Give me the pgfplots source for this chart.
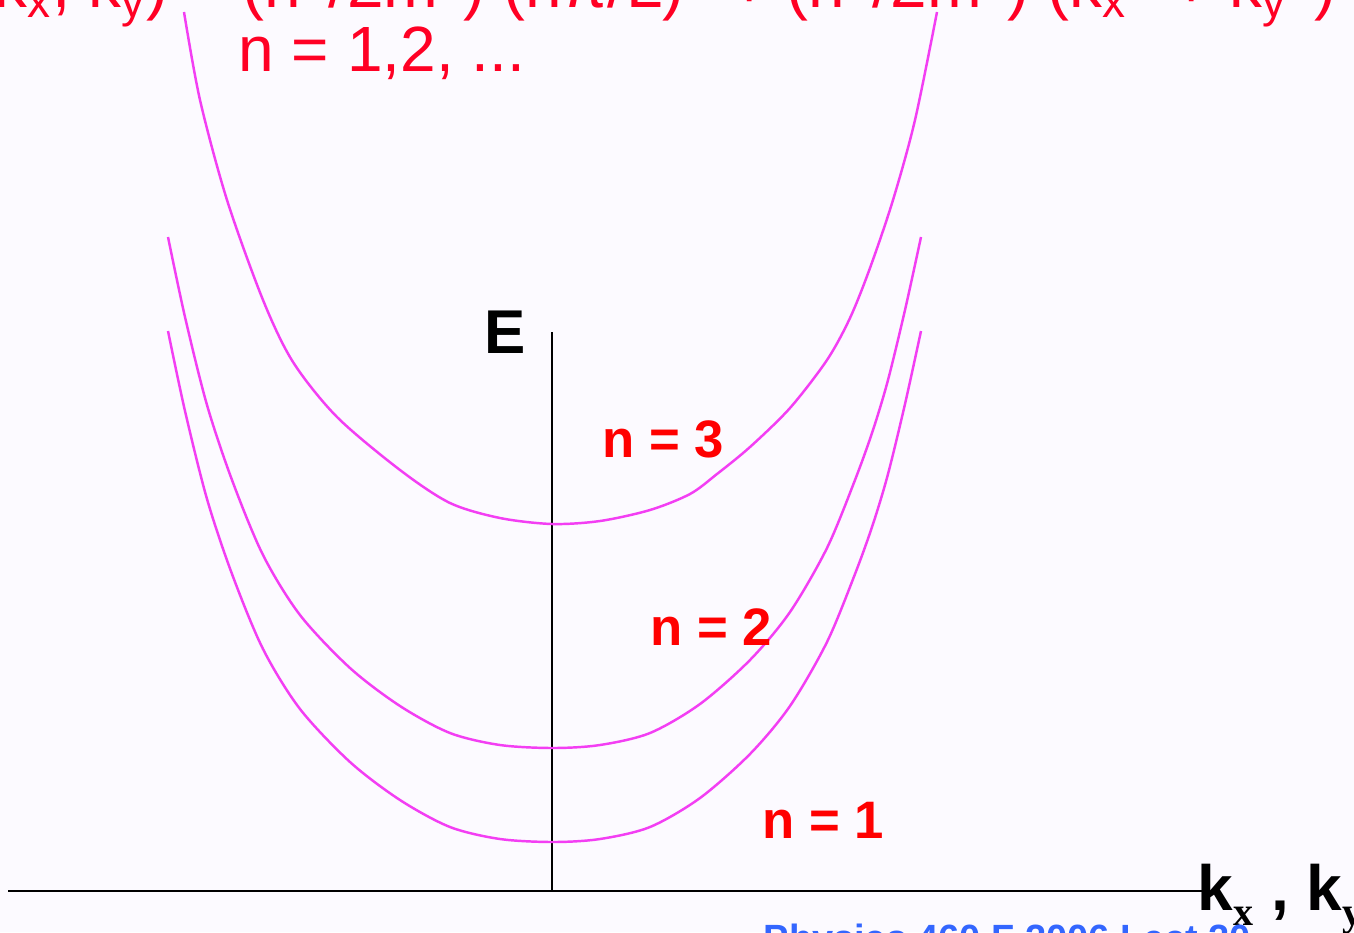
\documentclass[border=0pt]{standalone}
\usepackage{pgfplots}
\pgfplotsset{compat=1.18}
\usepackage{fontspec}
\setmainfont{Liberation Sans}
\newfontfamily\serifb{Liberation Serif}
\definecolor{bgcol}{RGB}{252,250,255}
\definecolor{curvecol}{RGB}{243,62,243}
\definecolor{toptext}{RGB}{255,0,36}
\definecolor{lblred}{RGB}{255,0,0}
\definecolor{footblue}{RGB}{51,102,255}
\begin{document}
\begin{tikzpicture}
\useasboundingbox (0,0) rectangle (13.54cm,9.32cm);
\clip (0,0) rectangle (13.54cm,9.32cm);
\fill[bgcol] (0,0) rectangle (13.54cm,9.32cm);
\begin{axis}[at={(0,0)}, anchor=south west, width=13.54cm, height=9.32cm,
  scale only axis, xmin=0, xmax=1354, ymin=0, ymax=932, y dir=reverse,
  hide axis, clip=false]
% axes
\addplot[black, line width=0.75pt] coordinates {(8,891) (1205,891)};
\addplot[black, line width=0.75pt] coordinates {(552,332) (552,891)};
% n = 3
\addplot[curvecol, line width=0.7pt, smooth] coordinates {
(184,12) (200,100) (227,200) (263,300) (293,362) (337,417) (400,470) (450,503)
(500,518) (552,524) (600,521) (650,510) (690,494) (717,474) (750,447) (790,408)
(827,360) (850,318) (870,268) (893,200) (915,120) (937,12)};
% n = 2
\addplot[curvecol, line width=0.7pt, smooth] coordinates {
(168,237) (185,317) (207,405) (232,480) (263,555) (300,615) (350,668) (400,706)
(450,733) (500,745) (553,748) (600,745) (650,733) (700,704) (750,660) (790,612)
(827,548) (855,480) (873,430) (888,380) (905,310) (921,237)};
% n = 1
\addplot[curvecol, line width=0.7pt, smooth] coordinates {
(168,331) (185,411) (207,499) (232,574) (263,649) (300,709) (350,762) (400,800)
(450,827) (500,839) (553,842) (600,839) (650,827) (700,798) (750,754) (790,706)
(827,642) (855,574) (873,524) (888,474) (905,404) (921,331)};
% texts
\node[anchor=base west, inner sep=0pt, text=toptext, font=\fontsize{18.7}{22}\selectfont]
  at (axis cs:-72,8) {E(k\textsubscript{x}, k\textsubscript{y}) = (ħ\textsuperscript{2}/2m*) (nπ/L)\textsuperscript{2} + (ħ\textsuperscript{2}/2m*) (k\textsubscript{x}\textsuperscript{2} + k\textsubscript{y}\textsuperscript{2})};
\node[anchor=base west, inner sep=0pt, text=toptext, font=\fontsize{18.2}{22}\selectfont]
  at (axis cs:238,72) {n = 1,2, ...};
\node[anchor=base west, inner sep=0pt, text=black, font=\fontsize{17.6}{20}\selectfont\bfseries]
  at (axis cs:484,353) {E};
\node[anchor=base west, inner sep=0pt, text=lblred, font=\fontsize{15}{17}\selectfont\bfseries]
  at (axis cs:602,457) {n = 3};
\node[anchor=base west, inner sep=0pt, text=lblred, font=\fontsize{15}{17}\selectfont\bfseries]
  at (axis cs:650,645) {n = 2};
\node[anchor=base west, inner sep=0pt, text=lblred, font=\fontsize{15}{17}\selectfont\bfseries]
  at (axis cs:762,838) {n = 1};
\node[anchor=base west, inner sep=0pt, text=black, font=\fontsize{18.2}{20}\selectfont\bfseries]
  at (axis cs:1197,910) {k\raisebox{-4.3pt}{\serifb\fontsize{11.4}{12}\selectfont\bfseries x} , k\raisebox{-4.3pt}{\serifb\fontsize{11.4}{12}\selectfont\bfseries y}};
\node[anchor=base west, inner sep=0pt, text=footblue, font=\fontsize{10.8}{12}\selectfont\bfseries]
  at (axis cs:763,951) {Physics 460 F 2006 Lect 20};
\end{axis}
\end{tikzpicture}
\end{document}
